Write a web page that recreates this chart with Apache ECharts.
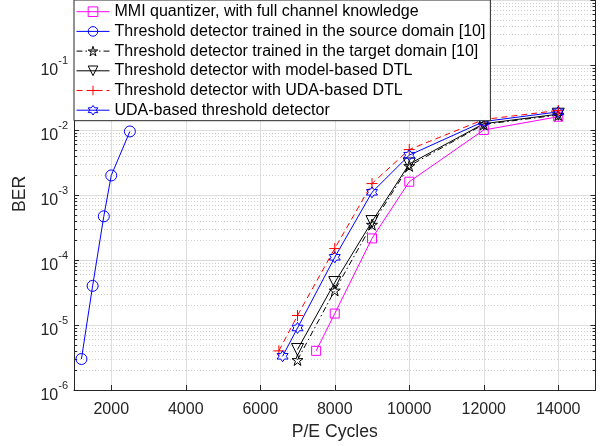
<!DOCTYPE html>
<html>
<head>
<meta charset="utf-8">
<script src="https://cdn.jsdelivr.net/npm/echarts@6/dist/echarts.min.js"></script>
<style>html,body{margin:0;padding:0;background:#fff}#c{width:605px;height:446px}</style>
</head>
<body>
<div id="c"></div>
<script>
// ---- data ----
const seriesNames = [
  'MMI quantizer, with full channel knowledge',
  'Threshold detector trained in the source domain [10]',
  'Threshold detector trained in the target domain [10]',
  'Threshold detector with model-based DTL',
  'Threshold detector with UDA-based DTL',
  'UDA-based threshold detector'
];
const mmiX = [7500, 8000, 9000, 10000, 12000, 14000];
const mmiY = [4e-6, 1.5e-5, 2.15e-4, 1.6e-3, 1.0e-2, 1.6e-2];
const srcX = [1200, 1500, 1800, 2000, 2500];
const srcY = [3e-6, 4e-5, 4.7e-4, 2.0e-3, 9.5e-3];
const tgtX = [7000, 8000, 9000, 10000, 12000, 14000];
const tgtY = [2.9e-6, 3.4e-5, 3.5e-4, 2.8e-3, 1.22e-2, 1.7e-2];
const mbX = [7000, 8000, 9000, 10000, 12000, 14000];
const mbY = [4.2e-6, 4.5e-5, 3.9e-4, 3.0e-3, 1.25e-2, 1.75e-2];
const udaDtlX = [6500, 7000, 8000, 9000, 10000, 12000, 14000];
const udaDtlY = [4e-6, 1.4e-5, 1.5e-4, 1.5e-3, 5.0e-3, 1.45e-2, 2.0e-2];
const udaX = [6600, 7000, 8000, 9000, 10000, 12000, 14000];
const udaY = [3.3e-6, 9e-6, 1.1e-4, 1.1e-3, 4.1e-3, 1.35e-2, 1.9e-2];
const xTickLabels = ['2000', '4000', '6000', '8000', '10000', '12000', '14000'];
const yDecades = [-6, -5, -4, -3, -2, -1];

// ---- marker shapes ----
function starPath(n, rIn) {
  let d = '';
  for (let i = 0; i < 2 * n; i++) {
    const r = i % 2 === 0 ? 1 : rIn;
    const a = -Math.PI / 2 + i * Math.PI / n;
    d += (i === 0 ? 'M' : 'L') + (r * Math.cos(a) * 100).toFixed(2) + ',' + (r * Math.sin(a) * 100).toFixed(2);
  }
  return 'path://' + d + 'Z';
}
const pentagram = starPath(5, 0.382);
const hexagram = starPath(6, 0.577);
const plus = 'path://M0,-100L0,100M-100,0L100,0';

const zip = (xs, ys) => xs.map((x, i) => [x, ys[i]]);

// minor grid values
const minorVals = [];
yDecades.forEach(d => { for (let k = 2; k <= 9; k++) minorVals.push(k * Math.pow(10, d)); });

function mk(name, xs, ys, color, symbol, size, dash, extra) {
  return Object.assign({
    name: name, type: 'line', data: zip(xs, ys),
    symbol: symbol, symbolSize: size,
    lineStyle: { color: color, width: 1, type: dash },
    itemStyle: { color: 'none', borderColor: color, borderWidth: 1 },
    emphasis: { disabled: true }, z: 5
  }, extra || {});
}

const axisColor = '#262626';
const chart = echarts.init(document.getElementById('c'), null, { renderer: 'canvas' });
chart.setOption({
  animation: false,
  backgroundColor: '#fff',
  grid: { left: 74, right: 9.5, top: -18.4, bottom: 52.3, containLabel: false },
  xAxis: {
    type: 'value', min: 1000, max: 15000, splitNumber: 7,
    name: 'P/E Cycles', nameLocation: 'middle', nameGap: 33,
    nameTextStyle: { fontSize: 17.6, color: axisColor, fontFamily: 'Liberation Sans' },
    axisLine: { show: true, lineStyle: { color: axisColor, width: 1 } },
    axisTick: { show: true, inside: true, length: 5, lineStyle: { color: axisColor } },
    axisLabel: {
      fontSize: 16, color: axisColor, margin: 12, fontFamily: 'Liberation Sans',
      showMinLabel: false, showMaxLabel: false,
      formatter: v => { const i = xTickLabels.indexOf(String(v)); return i >= 0 ? xTickLabels[i] : ''; }
    },
    splitLine: { show: true, lineStyle: { color: '#dedede', width: 1 } }
  },
  yAxis: [{
    type: 'log', logBase: 10, min: 1e-6, max: 1,
    axisLine: { show: true, lineStyle: { color: axisColor, width: 1 } },
    axisTick: { show: true, inside: true, length: 5, lineStyle: { color: axisColor } },
    axisLabel: {
      margin: 6, color: axisColor, fontFamily: 'Liberation Sans',
      formatter: v => {
        const e = Math.round(Math.log10(v));
        if (e >= 0) return '';
        return '{b|10}{s|' + e + '}';
      },
      rich: {
        b: { fontSize: 16, color: axisColor, fontFamily: 'Liberation Sans', verticalAlign: 'bottom', padding: [0, 0, -4, 0] },
        s: { fontSize: 11, color: axisColor, fontFamily: 'Liberation Sans', verticalAlign: 'bottom', padding: [0, 0, 9, 0] }
      }
    },
    splitLine: { show: true, lineStyle: { color: '#dedede', width: 1 } }
  }, {
    type: 'log', logBase: 10, min: 1e-6, max: 1, position: 'right',
    axisLine: { show: true, lineStyle: { color: axisColor, width: 1 } },
    axisTick: { show: true, inside: true, length: 5, lineStyle: { color: axisColor } },
    axisLabel: { show: false },
    splitLine: { show: false }
  }],
  legend: {
    orient: 'vertical', left: 74, top: 0,
    data: seriesNames,
    backgroundColor: '#fff', borderColor: axisColor, borderWidth: 1, borderRadius: 0,
    padding: [3.7, 5, 2.5, 2],
    itemWidth: 33, itemHeight: 12, itemGap: 3.7,
    itemStyle: { color: 'none', borderWidth: 1 },
    lineStyle: { width: 1 },
    textStyle: { fontSize: 16, color: '#000', fontFamily: 'Liberation Sans', lineHeight: 16 },
    selectedMode: false, z: 20
  },
  graphic: [{
    type: 'text', x: 20, y: 194, rotation: Math.PI / 2,
    style: { text: 'BER', fontSize: 17.6, fill: axisColor, fontFamily: 'Liberation Sans', textAlign: 'center', textVerticalAlign: 'middle' }
  }],
  series: [
    {
      type: 'custom', silent: true, z: 1, clip: true,
      data: minorVals.map(v => [1000, v]),
      renderItem: (params, api) => {
        const cs = params.coordSys;
        const y = Math.round(api.coord([1000, api.value(1)])[1]) + 0.5;
        return {
          type: 'group', children: [
            { type: 'line', shape: { x1: cs.x, y1: y, x2: cs.x + cs.width, y2: y }, style: { stroke: '#cfcfcf', lineWidth: 1, lineDash: [1, 2] } },
            { type: 'line', shape: { x1: cs.x, y1: y, x2: cs.x + 3, y2: y }, style: { stroke: axisColor, lineWidth: 1 } },
            { type: 'line', shape: { x1: cs.x + cs.width - 3, y1: y, x2: cs.x + cs.width, y2: y }, style: { stroke: axisColor, lineWidth: 1 } }
          ]
        };
      }
    },
    mk(seriesNames[0], mmiX, mmiY, '#FF00FF', 'rect', 9, 'solid'),
    mk(seriesNames[1], srcX, srcY, '#0000FF', 'circle', 11, 'solid'),
    mk(seriesNames[2], tgtX, tgtY, '#000000', pentagram, 11, [6, 3, 1.5, 3]),
    mk(seriesNames[3], mbX, mbY, '#000000', 'triangle', 12, 'solid', { symbolRotate: 180 }),
    mk(seriesNames[4], udaDtlX, udaDtlY, '#FF0000', plus, 11, [6, 4]),
    mk(seriesNames[5], udaX, udaY, '#0000FF', hexagram, 11, 'solid')
  ]
});
</script>
</body>
</html>
